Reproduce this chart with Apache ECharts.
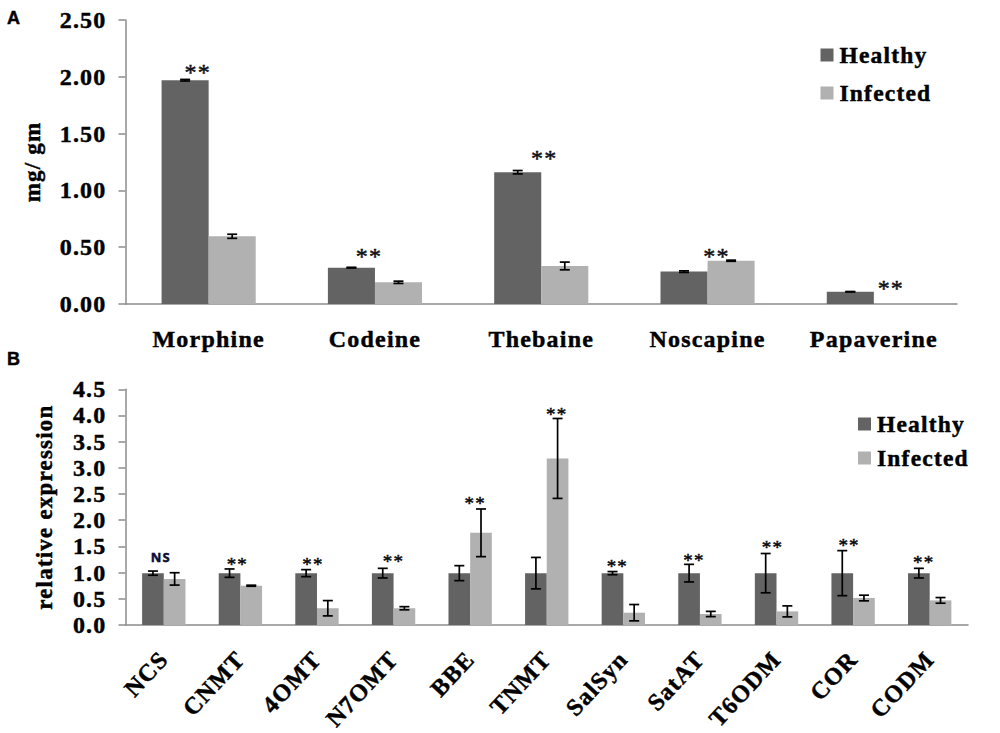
<!DOCTYPE html>
<html>
<head>
<meta charset="utf-8">
<title>Alkaloids and gene expression</title>
<script src="https://cdn.jsdelivr.net/npm/echarts@6/dist/echarts.min.js"></script>
<style>
    html, body { margin: 0; padding: 0; background: #fff; }
    #main { width: 1000px; height: 733px; }
    /* the original type is heavier and stretched a bit wider than the font */
    #main text { letter-spacing: 1.2px; stroke: currentColor; stroke-width: 0.45px; color: #000; }
</style>
</head>
<body>
<div id="main"></div>
<script>
// panel A
var alkaloids = ['Morphine', 'Codeine', 'Thebaine', 'Noscapine', 'Papaverine'];
var alkHealthy = [1.97, 0.32, 1.16, 0.285, 0.108];
var alkInfected = [0.596, 0.191, 0.335, 0.381, 0];
var alkHealthyErr = [0.007, 0.003, 0.015, 0.007, 0.002];
var alkInfectedErr = [0.018, 0.01, 0.034, 0.005, 0];
var alkMarks = ['**', '**', '**', '**', '**'];
var alkMarkLevel = [2.066, 0.44, 1.305, 0.446, 0.158];

// panel B
var genes = ['NCS', 'CNMT', '4OMT', 'N7OMT', 'BBE', 'TNMT', 'SalSyn', 'SatAT', 'T6ODM', 'COR', 'CODM'];
var geneHealthy = [0.99, 0.99, 0.99, 0.99, 0.99, 0.99, 0.99, 0.99, 0.99, 0.99, 0.99];
var geneInfected = [0.88, 0.75, 0.32, 0.32, 1.76, 3.18, 0.235, 0.21, 0.26, 0.515, 0.47];
var geneHealthyErr = [0.04, 0.08, 0.067, 0.092, 0.143, 0.3, 0.03, 0.168, 0.375, 0.43, 0.092];
var geneInfectedErr = [0.118, 0.01, 0.146, 0.03, 0.455, 0.763, 0.156, 0.05, 0.105, 0.054, 0.054];
var geneMarks = ['NS', '**', '**', '**', '**', '**', '**', '**', '**', '**', '**'];
var geneMarkLevel = [1.29, 1.2, 1.2, 1.245, 2.36, 4.06, 1.145, 1.27, 1.51, 1.56, 1.22];

var DARK = '#636363';
var LIGHT = '#b1b1b1';
var AXIS = '#8c8c8c';
var SERIF = '"Liberation Serif", "Times New Roman", serif';

var BAR_SHARE = 0.283;

// the stars are not centred on the groups in the original, pixels to the side
var alkMarkShift = [-11, -6, 3, 9, 17];
var geneMarkShift = [-3, -3, -4, 0, 5, 10, -6, -6, -4, -4, -6];

function errorItem(params, api) {
    // nothing to draw where the bar has no error (papaverine, infected)
    if (!api.value(2)) {
        return null;
    }
    var band = api.size([1, 0])[0];
    var off = api.value(3) * band * BAR_SHARE / 2;
    var x = api.coord([api.value(0), 0])[0] + off;
    var hi = api.coord([api.value(0), api.value(1) + api.value(2)])[1];
    var lo = api.coord([api.value(0), api.value(1) - api.value(2)])[1];
    var line = { stroke: '#000', lineWidth: 1.7 };
    return {
        type: 'group',
        children: [
            { type: 'line', shape: { x1: x, y1: hi, x2: x, y2: lo }, style: line },
            { type: 'line', shape: { x1: x - 5, y1: hi, x2: x + 5, y2: hi }, style: line },
            { type: 'line', shape: { x1: x - 5, y1: lo, x2: x + 5, y2: lo }, style: line }
        ]
    };
}

function errorSeries(axisIdx, values, errs, side) {
    return {
        type: 'custom',
        xAxisIndex: axisIdx,
        yAxisIndex: axisIdx,
        renderItem: errorItem,
        silent: true,
        z: 5,
        data: values.map(function (v, i) {
            return [i, v, errs[i], side];
        })
    };
}

function markSeries(axisIdx, marks, levels, shifts, size) {
    return {
        type: 'custom',
        xAxisIndex: axisIdx,
        yAxisIndex: axisIdx,
        silent: true,
        z: 6,
        renderItem: function (params, api) {
            var i = api.value(0);
            var p = api.coord([i, api.value(1)]);
            var isStar = marks[i] === '**';
            return {
                type: 'text',
                style: {
                    x: p[0] + shifts[i],
                    y: p[1] + (isStar ? size * 0.1 : 0),
                    text: marks[i],
                    textAlign: 'center',
                    textVerticalAlign: 'middle',
                    fill: isStar ? '#1b1b2b' : '#10104a',
                    font: isStar ? size + 'px ' + SERIF : 'bold 13px "Open Sans", sans-serif'
                }
            };
        },
        data: levels.map(function (v, i) {
            return [i, v];
        })
    };
}

function barSeries(name, axisIdx, values, color) {
    return {
        name: name,
        type: 'bar',
        xAxisIndex: axisIdx,
        yAxisIndex: axisIdx,
        barWidth: (BAR_SHARE * 100) + '%',
        barGap: 0,
        itemStyle: { color: color },
        data: values
    };
}

function legendAt(left, top, gap) {
    return {
        left: left,
        top: top,
        padding: 0,
        orient: 'vertical',
        icon: 'rect',
        itemWidth: 13,
        itemHeight: 13,
        itemGap: gap,
        selectedMode: false,
        data: ['Healthy', 'Infected'],
        textStyle: {
            color: '#000',
            fontFamily: SERIF,
            fontWeight: 'bold',
            fontSize: 23.5,
            padding: [0, 0, 0, 1]
        }
    };
}

function xAxisFor(gridIdx, names, label) {
    return {
        type: 'category',
        gridIndex: gridIdx,
        data: names,
        axisLine: { lineStyle: { color: AXIS, width: 1.5 } },
        axisTick: { length: 7, lineStyle: { color: AXIS, width: 1.5 } },
        axisLabel: label
    };
}

function yAxisFor(gridIdx, name, max, step, digits, nameGap, nameSize) {
    return {
        type: 'value',
        gridIndex: gridIdx,
        min: 0,
        max: max,
        interval: step,
        name: name,
        nameLocation: 'middle',
        nameGap: nameGap,
        nameTextStyle: { color: '#000', fontFamily: SERIF, fontWeight: 'bold', fontSize: nameSize },
        splitLine: { show: false },
        axisLine: { show: true, lineStyle: { color: AXIS, width: 1.5 } },
        axisTick: { show: true, length: 7, lineStyle: { color: AXIS, width: 1.5 } },
        axisLabel: {
            color: '#000',
            fontFamily: SERIF,
            fontWeight: 'bold',
            fontSize: 24,
            margin: 19,
            formatter: function (v) {
                return v.toFixed(digits);
            }
        }
    };
}

var chart = echarts.init(document.getElementById('main'), null, { renderer: 'svg' });

chart.setOption({
    animation: false,
    backgroundColor: '#fff',
    grid: [
        { left: 125.5, right: 43, top: 20, height: 284 },
        { left: 125.5, right: 32, top: 389.3, height: 235.7 }
    ],
    legend: [legendAt(820.5, 43, 14), legendAt(858, 412, 10)],
    xAxis: [
        xAxisFor(0, alkaloids, {
            color: '#000', fontFamily: SERIF, fontWeight: 'bold', fontSize: 24, margin: 23, interval: 0
        }),
        xAxisFor(1, genes, {
            color: '#000', fontFamily: SERIF, fontWeight: 'bold', fontSize: 24, margin: 30, interval: 0, rotate: 47
        })
    ],
    yAxis: [
        yAxisFor(0, 'mg/ gm', 2.5, 0.5, 2, 82, 23),
        yAxisFor(1, 'relative expression', 4.5, 0.5, 1, 70, 23)
    ],
    series: [
        barSeries('Healthy', 0, alkHealthy, DARK),
        barSeries('Infected', 0, alkInfected, LIGHT),
        errorSeries(0, alkHealthy, alkHealthyErr, -1),
        errorSeries(0, alkInfected, alkInfectedErr, 1),
        markSeries(0, alkMarks, alkMarkLevel, alkMarkShift, 24),
        barSeries('Healthy', 1, geneHealthy, DARK),
        barSeries('Infected', 1, geneInfected, LIGHT),
        errorSeries(1, geneHealthy, geneHealthyErr, -1),
        errorSeries(1, geneInfected, geneInfectedErr, 1),
        markSeries(1, geneMarks, geneMarkLevel, geneMarkShift, 19)
    ],
    graphic: [
        { type: 'text', left: 7, top: 9, style: { text: 'A', fill: '#000', font: 'bold 18px "Liberation Sans", sans-serif' } },
        { type: 'text', left: 7, top: 350, style: { text: 'B', fill: '#000', font: 'bold 18px "Liberation Sans", sans-serif' } }
    ]
});
</script>
</body>
</html>
